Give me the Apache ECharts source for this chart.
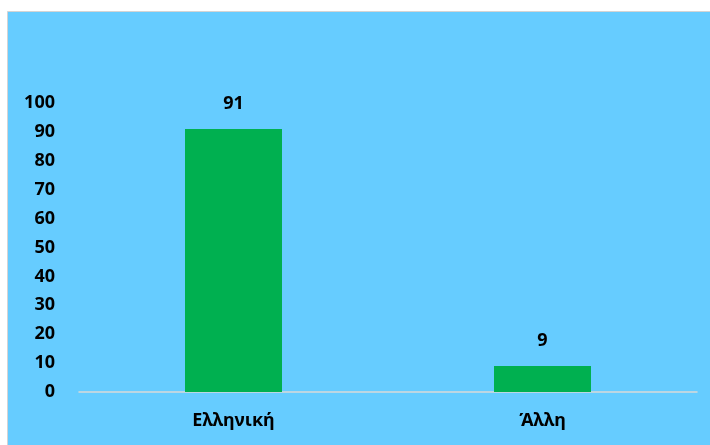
<!DOCTYPE html>
<html>
<head>
<meta charset="utf-8">
<script src="https://cdn.jsdelivr.net/npm/echarts@6/dist/echarts.min.js"></script>
<style>
html,body{margin:0;padding:0;background:#fff;}
#c{width:710px;height:445px;}
</style>
</head>
<body>
<div id="c"></div>
<script>
var categories = ['Ελληνική', 'Άλλη'];
var values = [91, 9];
var yTicks = [0, 10, 20, 30, 40, 50, 60, 70, 80, 90, 100];

var chart = echarts.init(document.getElementById('c'), null, {renderer: 'canvas'});
var font = '"Noto Sans", "Open Sans", sans-serif';
chart.setOption({
  backgroundColor: '#ffffff',
  animation: false,
  graphic: [{
    type: 'rect',
    shape: {x: 7.5, y: 11.5, width: 710, height: 440},
    style: {fill: '#66CCFF', stroke: '#d4d4d4', lineWidth: 1},
    z: -10
  }],
  grid: {left: 79, right: 13, top: 103, bottom: 53, containLabel: false},
  xAxis: {
    type: 'category',
    data: categories,
    axisLine: {lineStyle: {color: '#d9d9d9', width: 1.5}},
    axisTick: {show: false},
    axisLabel: {color: '#000', fontWeight: 'bold', fontSize: 18, fontFamily: font, margin: 20}
  },
  yAxis: {
    type: 'value',
    min: yTicks[0],
    max: yTicks[yTicks.length - 1],
    interval: 10,
    splitLine: {show: false},
    axisLine: {show: false},
    axisTick: {show: false},
    axisLabel: {color: '#000', fontWeight: 'bold', fontSize: 18, fontFamily: font, margin: 24}
  },
  series: [{
    type: 'bar',
    data: values,
    barWidth: 97,
    itemStyle: {color: '#00B050'},
    label: {show: true, position: 'top', distance: 16, color: '#000', fontWeight: 'bold', fontSize: 18, fontFamily: font}
  }]
});
</script>
</body>
</html>
